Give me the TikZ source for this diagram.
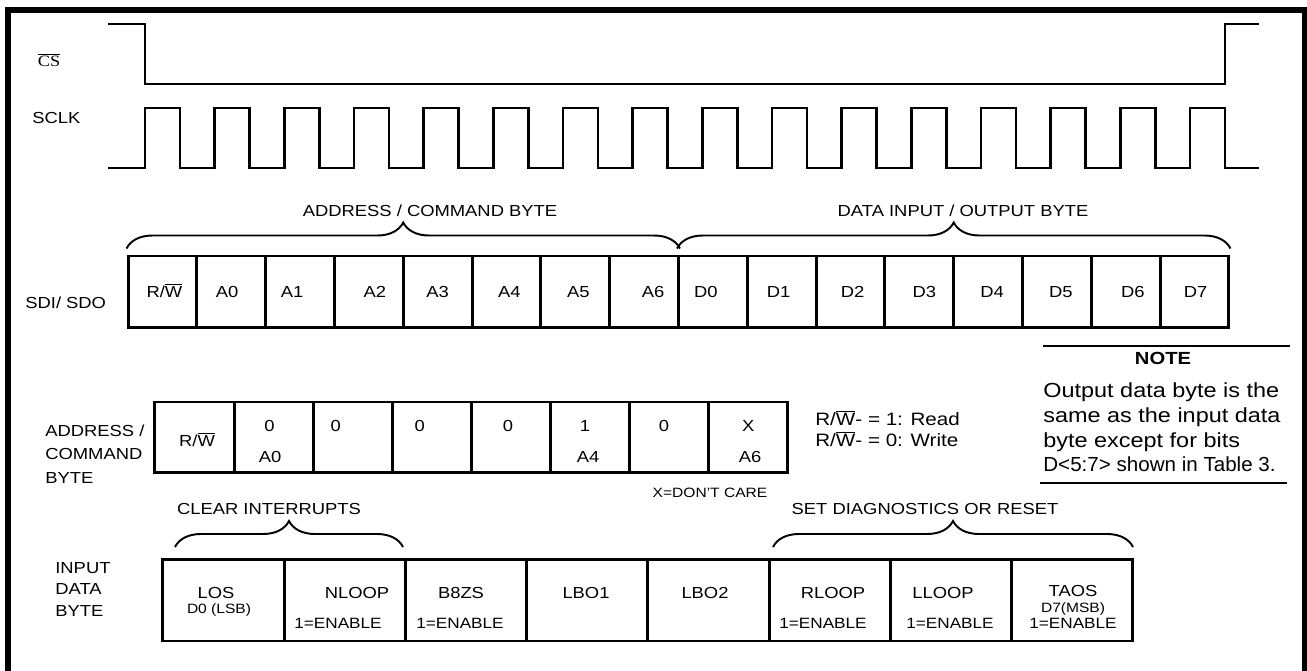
\documentclass[tikz,border=0pt]{standalone}
\usepackage{fontspec}
\setmainfont{Liberation Sans}[FakeStretch=1.15]
\newfontfamily\serifcs{Liberation Serif}[FakeStretch=1.15]
\newfontfamily\notecond{Liberation Sans}[FakeStretch=1.01]
\usetikzlibrary{decorations.pathreplacing}
\newcommand{\rwbar}{R/$\overline{\hbox{W}}$}

\begin{document}
\begin{tikzpicture}[
	x=0.02cm, y=-0.02cm,
	txt/.style={inner sep=0pt, anchor=base, font=\fontsize{9.1}{11}\selectfont},
	smalltxt/.style={txt, font=\fontsize{7.7}{9}\selectfont},
	entxt/.style={txt, font=\fontsize{8.5}{10}\selectfont},
	wave/.style={line width=1.5pt},
	sdicell/.style={rectangle, draw, line width=1.7pt, minimum width=1.376cm, minimum height=1.44cm, inner sep=0pt},
	adrcell/.style={sdicell, minimum width=1.582cm, minimum height=1.42cm},
	incell/.style={sdicell, minimum width=2.425cm, minimum height=1.64cm},
	brc/.style={decorate, decoration={brace, amplitude=0.52cm}, line width=1.1pt}
]
\useasboundingbox (0,0) rectangle (1307,671);
\draw[line width=3.2pt] (8,671) -- (8,10) -- (1305,10) -- (1305,671);

% chip select and clock
\node[txt, font=\serifcs\fontsize{9}{11}\selectfont] (cs) at (49,67) {$\overline{\hbox{CS}}$};
\node[txt, anchor=base west] (sclk) at (32,124) {SCLK};
\draw[wave] (108,24) -- (145,24) -- (145,84) -- (1225,84) -- (1225,24) -- (1259,24);
\draw[wave] (108,168) \foreach \i in {0,...,15} { -- ({145+69.67*\i},168) -- ++(0,-60) -- ++(35,0) -- ++(0,60) } -- (1259,168);

% serial data frame
\node[txt, anchor=base west] (sdi) at (25,309) {SDI/ SDO};
\foreach \lbl/\dx [count=\i from 0] in {\rwbar/2, A0/-4, A1/-8, A2/6, A3/0, A4/3, A5/3, A6/9, D0/-7, D1/-3, D2/2, D3/5, D4/4, D5/4, D6/7, D7/1} {
	\node[sdicell] (sdi\i) at ({162.4+68.81*\i},292) {};
	\node[txt] (sdit\i) at ({162.4+68.81*\i+(\dx)},298) {\lbl};
}
\draw[brc] ([yshift=0.12cm]sdi0.north west) -- ([yshift=0.12cm]sdi7.north east);
\draw[brc] ([yshift=0.12cm]sdi8.north west) -- ([yshift=0.12cm]sdi15.north east);
\node[txt] (adrhd) at (430,217) {ADDRESS / COMMAND BYTE};
\node[txt] (datahd) at (963,217) {DATA INPUT / OUTPUT BYTE};

% address / command byte
\node[txt, anchor=base west, align=left, font=\fontsize{9.1}{13.3}\selectfont] (adrlbl) at (45,483) {ADDRESS /\\COMMAND\\BYTE};
\foreach \i in {0,...,7}
	\node[adrcell] (adr\i) at ({194.5+79.1*\i},437.5) {};
\node[txt] (adrrw) at (197,447) {\rwbar};
\foreach \val/\dx [count=\i] in {0/-4, 0/-17, 0/-12, 0/-3, 1/-5, 0/-5, X/0}
	\node[txt] (adrv\i) at ({194.5+79.1*\i+(\dx)},432) {\val};
\node[txt] (adrs1) at (270,463) {A0};
\node[txt] (adrs5) at (588,463) {A4};
\node[txt] (adrs7) at (750,463) {A6};
\node[smalltxt] (xcare) at (710,498) {X=DON'T CARE};
\node[txt, anchor=base west, font=\fontsize{10.2}{12}\selectfont] (rdline) at (815,426) {\rwbar- = 1: Read};
\node[txt, anchor=base west, font=\fontsize{10.2}{12}\selectfont] (wrline) at (815,447) {\rwbar- = 0: Write};

% note
\draw[line width=1.4pt] (1043,346) -- (1290,346);
\node[txt, font=\bfseries\fontsize{10}{12}\selectfont] (notehd) at (1163,365) {NOTE};
\node[txt, anchor=base west, align=left, font=\fontsize{11.6}{14.2}\selectfont] (notebody) at (1043,472) {Output data byte is the\\same as the input data\\byte except for bits\\{\notecond D<5:7> shown in Table 3.}};
\draw[line width=1.4pt] (1040,483) -- (1287,483);

% input data byte
\node[txt, anchor=base west, align=left, font=\fontsize{9.1}{12.2}\selectfont] (inlbl) at (55,616) {INPUT\\DATA\\BYTE};
\foreach \i in {0,...,7}
	\node[incell] (in\i) at ({223.6+121.25*\i},600) {};
\draw[brc] (175,547) -- (403,547);
\draw[brc] (773,547) -- (1133,547);
\node[txt] (clrhd) at (269,515) {CLEAR INTERRUPTS};
\node[txt] (sethd) at (925,515) {SET DIAGNOSTICS OR RESET};
\node[txt] (los) at (216,598) {LOS};
\node[smalltxt] (lsb) at (219,613) {D0 (LSB)};
\node[txt] (nloop) at (357,598) {NLOOP};
\node[entxt] (en1) at (338,628) {1=ENABLE};
\node[txt] (b8zs) at (461,598) {B8ZS};
\node[entxt] (en2) at (460,628) {1=ENABLE};
\node[txt] (lbo1) at (586,598) {LBO1};
\node[txt] (lbo2) at (705,598) {LBO2};
\node[txt] (rloop) at (833,598) {RLOOP};
\node[entxt] (en5) at (823,628) {1=ENABLE};
\node[txt] (lloop) at (943,598) {LLOOP};
\node[entxt] (en6) at (950,628) {1=ENABLE};
\node[txt] (taos) at (1073,596) {TAOS};
\node[smalltxt] (msb) at (1073,612) {D7(MSB)};
\node[entxt] (en7) at (1073,628) {1=ENABLE};
\end{tikzpicture}
\end{document}
